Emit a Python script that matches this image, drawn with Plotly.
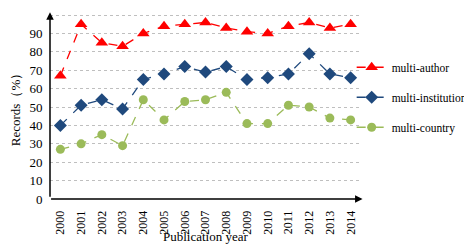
import plotly.graph_objects as go

years = [str(y) for y in range(2000, 2015)]
multi_author = [67, 95, 85, 83, 90, 94, 95, 96, 93, 91, 90, 94, 96, 93, 95]
multi_institution = [40, 51, 54, 49, 65, 68, 72, 69, 72, 65, 66, 68, 79, 68, 66]
multi_country = [27, 30, 35, 29, 54, 43, 53, 54, 58, 41, 41, 51, 50, 44, 43]
y_ticks = list(range(0, 101, 10))

FONT = "Times New Roman, Liberation Serif, DejaVu Serif, serif"

fig = go.Figure()
series = [
    ("multi-author", multi_author, "#FF0000", "triangle-up", 11),
    ("multi-institution", multi_institution, "#1F497D", "diamond", 10),
    ("multi-country", multi_country, "#9BBB59", "circle", 9),
]
for name, vals, col, sym, sz in series:
    fig.add_trace(go.Scatter(
        x=years, y=vals, name=name, mode="lines+markers",
        line=dict(color=col, width=1.3, dash="dash"),
        marker=dict(symbol=sym, size=sz, color=col),
        legendgroup=name,
    ))

fig.update_layout(
    width=472, height=247,
    margin=dict(l=42, r=119, t=6, b=56, autoexpand=False),
    paper_bgcolor="white", plot_bgcolor="white",
    font=dict(family=FONT, size=12, color="black"),
    showlegend=True,
    legend=dict(x=0.97, y=0.55,
                xanchor="left", yanchor="middle",
                font=dict(family=FONT, size=11.5), tracegroupgap=11,
                itemwidth=30, bgcolor="rgba(0,0,0,0)"),
    xaxis=dict(type="category", range=[-0.5, 14.5], tickangle=-90,
               showgrid=False, showline=False, ticks="outside", ticklen=6,
               tickcolor="rgba(0,0,0,0)", zeroline=False,
               tickfont=dict(family=FONT, size=12)),
    yaxis=dict(range=[0, 100.6], tickvals=y_ticks, showgrid=True,
               gridcolor="#BFBFBF", griddash="dot", gridwidth=1,
               showline=False, ticks="outside", ticklen=4,
               tickcolor="rgba(0,0,0,0)", zeroline=False,
               tickfont=dict(family=FONT, size=13),
               title=dict(text="Records（%）", font=dict(family=FONT, size=13), standoff=6)),
    annotations=[
        dict(x=0.5, y=0, xref="paper", yref="paper", yshift=-37,
             xanchor="center", yanchor="middle", showarrow=False,
             text="Publication year", font=dict(family=FONT, size=13)),
        dict(x=0, y=1.01, xref="paper", yref="paper", ax=0, ay=186,
             axref="pixel", ayref="pixel", showarrow=True, arrowhead=2,
             arrowsize=1, arrowwidth=1.5, arrowcolor="black", text=""),
        dict(x=1.005, y=0, xref="paper", yref="paper", ax=-313, ay=0,
             axref="pixel", ayref="pixel", showarrow=True, arrowhead=2,
             arrowsize=1, arrowwidth=1.5, arrowcolor="black", text=""),
    ],
)

fig.write_html("out.html")
